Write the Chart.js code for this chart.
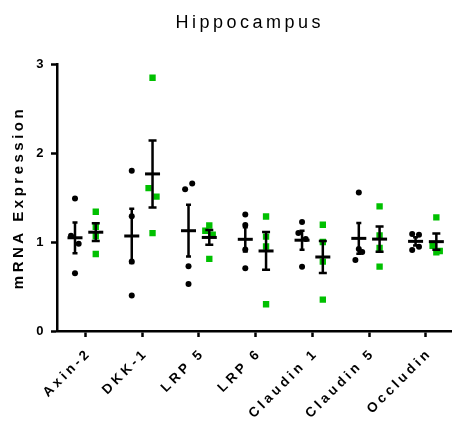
<!DOCTYPE html>
<html>
<head>
<meta charset="utf-8">
<script src="https://cdn.jsdelivr.net/npm/chart.js@4.4.1/dist/chart.umd.min.js"></script>
<style>
  html, body { margin: 0; padding: 0; background: #fff; }
</style>
</head>
<body>
<canvas id="myChart" width="456" height="422"></canvas>
<script>
const categories = ["Axin-2", "DKK-1", "LRP 5", "LRP 6", "Claudin 1", "Claudin 5", "Occludin"];
const yTicks = [0, 1, 2, 3];

// four animals per gene, relative expression
const controlValues = [
  [1.49, 1.07, 0.98, 0.65],
  [1.80, 1.29, 0.78, 0.40],
  [1.594, 1.657, 0.727, 0.529],
  [1.31, 1.19, 0.917, 0.704],
  [1.224, 1.10, 1.034, 0.723],
  [1.556, 0.921, 0.888, 0.798],
  [1.09, 1.082, 0.947, 0.91],
];
const treatedValues = [
  [1.34, 1.17, 1.065, 0.865],
  [2.845, 1.605, 1.51, 1.10],
  [1.186, 1.127, 1.082, 0.81],
  [1.287, 1.06, 0.95, 0.30],
  [1.194, 1.0, 0.779, 0.353],
  [1.40, 1.074, 0.933, 0.723],
  [1.276, 0.958, 0.883, 0.899],
];

// sideways spread so overlapping points stay visible (in category units)
const controlJitter = [
  [0, -0.07, 0.065, 0],
  [0, 0, 0, 0],
  [-0.06, 0.065, 0, 0],
  [0, 0, 0, 0],
  [0, -0.065, 0.065, 0],
  [0, 0, 0.06, -0.06],
  [-0.06, 0.06, 0.06, -0.06],
];
const treatedJitter = [
  [0, 0, 0, 0],
  [0, -0.07, 0.07, 0],
  [0, -0.07, 0.06, 0],
  [0, 0, 0, 0],
  [0, 0, 0, 0],
  [0, 0, 0, 0],
  [0, -0.066, 0, 0.06],
];

const GREEN = "rgb(0, 192, 0)";
const FONT = "'Liberation Sans', Arial, sans-serif";
const SPACING = "3.5px";
const groupShift = 0.183; // each group sits a bit left / right of its tick

Chart.defaults.font.family = FONT;
Chart.defaults.color = "#000";

function toPoints(values, jitter, shift) {
  const pts = [];
  values.forEach((row, i) => {
    row.forEach((v, j) => pts.push({ x: i + shift + jitter[i][j], y: v }));
  });
  return pts;
}

function meanSem(row) {
  const n = row.length;
  const mean = row.reduce((a, b) => a + b, 0) / n;
  const sd = Math.sqrt(row.reduce((a, b) => a + (b - mean) ** 2, 0) / (n - 1));
  return { mean: mean, sem: sd / Math.sqrt(n) };
}

// wide tracking for all text on the canvas
const letterSpacingPlugin = {
  id: "letterSpacing",
  beforeLayout(chart) { chart.ctx.letterSpacing = SPACING; },
  beforeDraw(chart) { chart.ctx.letterSpacing = SPACING; },
};

// mean line with SEM whiskers, drawn on top of the points
const errorBarPlugin = {
  id: "errorBars",
  afterDatasetsDraw(chart) {
    const ctx = chart.ctx;
    const xs = chart.scales.x;
    const ys = chart.scales.y;
    const groups = [
      { values: controlValues, shift: -groupShift, cap: 2.5 },
      { values: treatedValues, shift: groupShift, cap: 4 },
    ];
    ctx.save();
    ctx.strokeStyle = "#000";
    groups.forEach((g) => {
      g.values.forEach((row, i) => {
        const s = meanSem(row);
        const x = xs.getPixelForValue(i + g.shift);
        const yMean = ys.getPixelForValue(s.mean);
        const yTop = ys.getPixelForValue(s.mean + s.sem);
        const yBot = ys.getPixelForValue(s.mean - s.sem);
        ctx.lineWidth = 2.5;
        ctx.beginPath();
        ctx.moveTo(x, yTop);
        ctx.lineTo(x, yBot);
        ctx.moveTo(x - g.cap, yTop);
        ctx.lineTo(x + g.cap, yTop);
        ctx.moveTo(x - g.cap, yBot);
        ctx.lineTo(x + g.cap, yBot);
        ctx.stroke();
        ctx.lineWidth = 3;
        ctx.beginPath();
        ctx.moveTo(x - 7.5, yMean);
        ctx.lineTo(x + 7.5, yMean);
        ctx.stroke();
      });
    });
    ctx.restore();
  },
};

const titlePlugin = {
  id: "plotTitle",
  afterDraw(chart) {
    const ctx = chart.ctx;
    ctx.save();
    ctx.letterSpacing = SPACING;
    ctx.font = "18px " + FONT;
    ctx.fillStyle = "#000";
    ctx.textBaseline = "alphabetic";
    const text = "Hippocampus";
    const w = ctx.measureText(text).width;
    ctx.fillText(text, 248 - w / 2 + 1.75, 28);
    ctx.restore();
  },
};

const ctx = document.getElementById("myChart").getContext("2d");

const myChart = new Chart(ctx, {
  type: "scatter",
  data: {
    datasets: [
      {
        label: "Control",
        data: toPoints(controlValues, controlJitter, -groupShift),
        pointStyle: "circle",
        pointRadius: 3,
        backgroundColor: "#000",
        borderWidth: 0,
      },
      {
        label: "Treated",
        data: toPoints(treatedValues, treatedJitter, groupShift),
        pointStyle: "rect",
        pointRadius: 4.5,
        backgroundColor: GREEN,
        borderWidth: 0,
      },
    ],
  },
  options: {
    responsive: false,
    animation: false,
    devicePixelRatio: 1,
    layout: { padding: { top: 64, right: 0, left: 0, bottom: 0 } },
    plugins: {
      legend: { display: false },
      tooltip: { enabled: false },
    },
    scales: {
      x: {
        type: "linear",
        min: -0.5,
        max: 6.45,
        afterBuildTicks: (axis) => {
          axis.ticks = categories.map((c, i) => ({ value: i }));
        },
        afterFit: (axis) => {
          axis.height = 91;
          axis.paddingLeft = 0;
          axis.paddingRight = 0;
        },
        ticks: {
          callback: (value) => categories[value],
          autoSkip: false,
          minRotation: 45,
          maxRotation: 45,
          padding: 8,
          labelOffset: 4,
          color: "#000",
          font: { size: 13.5, weight: "bold" },
        },
        grid: {
          drawOnChartArea: false,
          drawTicks: true,
          tickLength: 6,
          tickWidth: 2.5,
          color: "#000",
        },
        border: { color: "#000", width: 2.5 },
      },
      y: {
        min: 0,
        max: 3,
        afterBuildTicks: (axis) => {
          axis.ticks = yTicks.map((v) => ({ value: v }));
        },
        afterFit: (axis) => {
          axis.width = 57;
        },
        ticks: {
          padding: 4,
          color: "#000",
          font: { size: 13, weight: "bold" },
        },
        grid: {
          drawOnChartArea: false,
          drawTicks: true,
          tickLength: 6,
          tickWidth: 2.5,
          color: "#000",
        },
        border: { color: "#000", width: 2.5 },
        title: {
          display: true,
          text: "mRNA Expression",
          color: "#000",
          font: { size: 15, weight: "bold" },
          padding: { top: 9.5, bottom: 0 },
        },
      },
    },
  },
  plugins: [letterSpacingPlugin, errorBarPlugin, titlePlugin],
});
</script>
</body>
</html>
